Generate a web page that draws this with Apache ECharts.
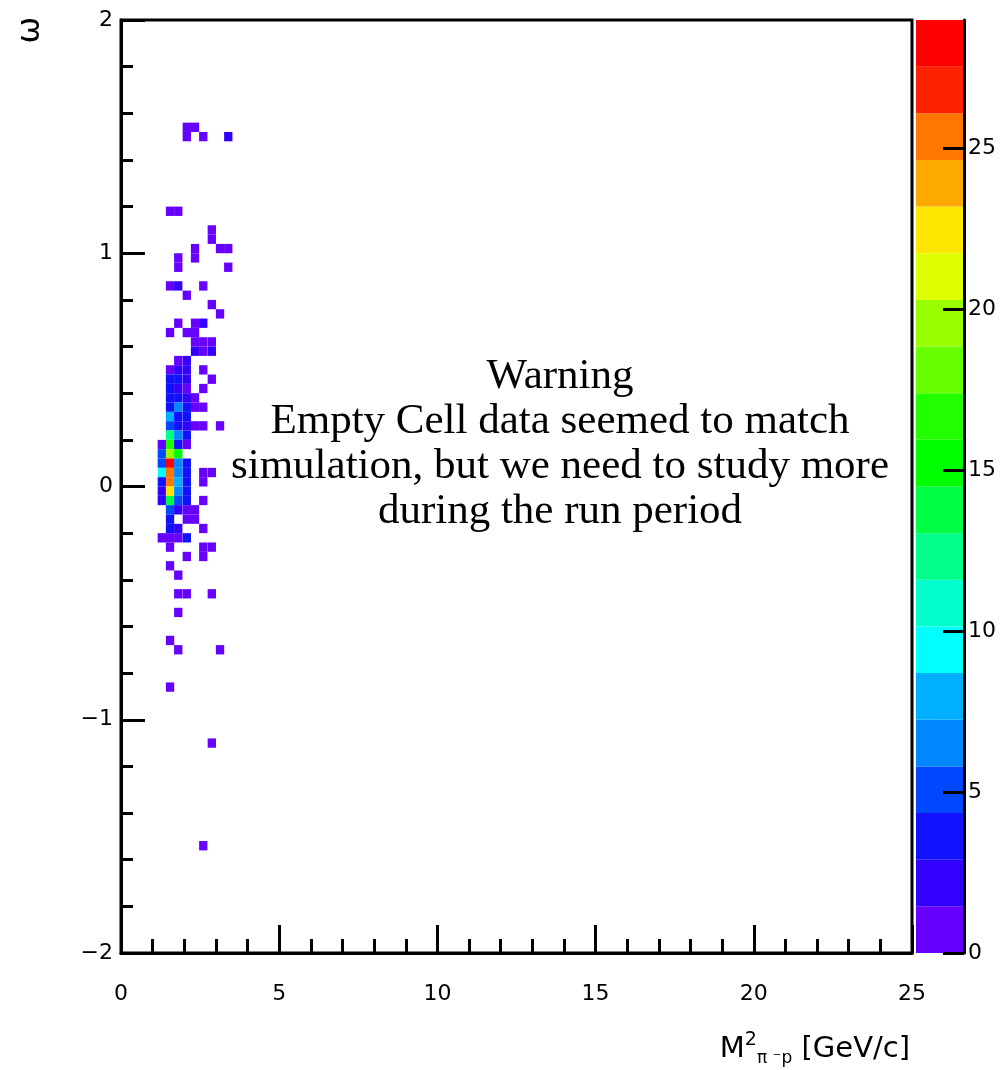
<!DOCTYPE html>
<html>
<head>
<meta charset="utf-8">
<script src="https://cdn.jsdelivr.net/npm/echarts@6/dist/echarts.min.js"></script>
<style>
html,body{margin:0;padding:0;background:#fff;}
#main{width:1008px;height:1070px;}
</style>
</head>
<body>
<div id="main"></div>
<script>
// ---- data ----
const xBinWidth = 0.263;   // bin width along M^2
const yBinHeight = 0.04;   // bin height along omega
const zMax = 29;           // top of the colour scale
const nLevels = 20;        // number of colour contours
const xTickValues = [0, 5, 10, 15, 20, 25];
const yTickValues = [-2, -1, 0, 1, 2];
const colorbarTicks = [0, 5, 10, 15, 20, 25];

// bin centres in omega, and the filled bins of each row as [M^2 centre, count]
const rowY = [1.54, 1.50, 1.18, 1.10, 1.06, 1.02, 0.98, 0.94, 0.86, 0.82, 0.78, 0.74, 0.70, 0.66, 0.62, 0.58, 0.54, 0.50,
  0.46, 0.42, 0.38, 0.34, 0.30, 0.26, 0.22, 0.18, 0.14, 0.10, 0.06, 0.02, -0.02, -0.06, -0.10, -0.14, -0.18, -0.22,
  -0.26, -0.30, -0.34, -0.38, -0.46, -0.54, -0.66, -0.70, -0.86, -1.10, -1.54];
const rowCells = [
  [[2.08,1],[2.34,1]],
  [[2.08,1],[2.60,1],[3.39,2]],
  [[1.55,1],[1.81,1]],
  [[2.87,1]],
  [[2.87,1]],
  [[2.34,1],[3.13,1],[3.39,1]],
  [[1.81,1],[2.34,1]],
  [[1.81,1],[3.39,1]],
  [[1.55,1],[1.81,2],[2.60,1]],
  [[2.08,1]],
  [[2.87,1]],
  [[3.13,1]],
  [[1.81,1],[2.34,1],[2.60,2]],
  [[1.55,1],[2.08,1],[2.34,1]],
  [[2.34,1],[2.60,1],[2.87,1]],
  [[2.34,2],[2.60,1],[2.87,2]],
  [[1.81,1],[2.08,2]],
  [[1.55,1],[1.81,2],[2.08,2],[2.60,1]],
  [[1.55,3],[1.81,3],[2.08,2],[2.87,1]],
  [[1.55,3],[1.81,2],[2.08,1],[2.60,1]],
  [[1.55,3],[1.81,3],[2.08,2],[2.34,1]],
  [[1.55,3],[1.81,6],[2.08,3],[2.34,1],[2.60,1]],
  [[1.55,8],[1.81,3],[2.08,3]],
  [[1.55,5],[1.81,4],[2.08,2],[2.34,1],[2.60,1],[3.13,1]],
  [[1.55,13],[1.81,6],[2.08,3]],
  [[1.29,1],[1.55,16],[1.81,3],[2.08,1]],
  [[1.29,5],[1.55,19],[1.81,15]],
  [[1.29,5],[1.55,29],[1.81,6],[2.08,3]],
  [[1.29,10],[1.55,26],[1.81,6],[2.08,3],[2.60,1],[2.87,1]],
  [[1.29,4],[1.55,26],[1.81,8],[2.08,3],[2.60,1]],
  [[1.29,2],[1.55,22],[1.81,6],[2.08,3]],
  [[1.29,2],[1.55,14],[1.81,5],[2.08,3],[2.60,1]],
  [[1.55,5],[1.81,2],[2.08,1],[2.34,1]],
  [[1.55,3],[2.08,1],[2.34,1]],
  [[1.55,3],[1.81,2],[2.60,1]],
  [[1.29,1],[1.55,1],[1.81,1],[2.08,3]],
  [[1.55,1],[2.60,1],[2.87,1]],
  [[2.08,1],[2.60,1]],
  [[1.55,1]],
  [[1.81,1]],
  [[1.81,1],[2.08,1],[2.87,1]],
  [[1.81,1]],
  [[1.55,1]],
  [[1.81,1],[3.13,1]],
  [[1.55,1]],
  [[2.87,1]],
  [[2.60,1]]
];

// ROOT rainbow palette, 20 contours (bottom -> top)
const palette = ['#6600ff','#3300ff','#1111ff','#0048ff','#0088ff','#00b0ff','#00ffff','#00ffcc','#00ff88','#00ff44',
  '#00ff00','#22ff00','#66ff00','#99ff00','#ddff00','#ffe600','#ffaa00','#ff7700','#ff2200','#ff0000'];

const warningText = 'Warning\nEmpty Cell data seemed to match\nsimulation, but we need to study more\nduring the run period';

// ---- build the series data ----
const cells = [];
rowY.forEach(function (y, r) {
  rowCells[r].forEach(function (c) { cells.push([c[0], y, c[1]]); });
});
const step = zMax / nLevels;
const pieces = palette.map(function (col, k) {
  return k === nLevels - 1 ? { gte: k * step, color: col } : { gte: k * step, lt: (k + 1) * step, color: col };
});
const bandData = palette.map(function (col, k) { return [k * step, (k + 1) * step, k]; });

const labelFont = { color: '#000', fontFamily: 'DejaVu Sans', fontSize: 22 };
const minus = function (v) { return v < 0 ? '\u2212' + Math.abs(v) : String(v); };

const chart = echarts.init(document.getElementById('main'), null, { renderer: 'canvas' });
chart.setOption({
  backgroundColor: '#ffffff',
  animation: false,
  grid: [
    { left: 121, top: 20, width: 791, height: 933, show: true, borderColor: '#000', borderWidth: 3, backgroundColor: 'rgba(0,0,0,0)', containLabel: false },
    { left: 916, top: 20, width: 48, height: 933, show: false, containLabel: false }
  ],
  visualMap: {
    type: 'piecewise', show: false, seriesIndex: 0, dimension: 2, pieces: pieces
  },
  xAxis: [
    {
      gridIndex: 0, type: 'value', min: 0, max: 25, interval: 5,
      axisLine: { show: true, onZero: false, lineStyle: { color: '#000', width: 3 } },
      axisTick: { show: true, inside: true, length: 28, lineStyle: { color: '#000', width: 3 } },
      minorTick: { show: true, splitNumber: 5, length: 14, lineStyle: { color: '#000', width: 3 } },
      splitLine: { show: false }, minorSplitLine: { show: false },
      axisLabel: Object.assign({ margin: 30, formatter: minus }, labelFont),
      name: '{m|M}{sup|2}{sub|\u03c0 \u207bp} {m|[GeV/c]}',
      nameLocation: 'end', nameGap: -2, nameMoveOverlap: false,
      nameTextStyle: {
        align: 'right', verticalAlign: 'top', padding: [78, 0, 0, 0],
        color: '#000', fontFamily: 'DejaVu Sans', fontSize: 29, lineHeight: 36,
        rich: {
          m: { fontFamily: 'DejaVu Sans', fontSize: 29, color: '#000', lineHeight: 36 },
          sup: { fontFamily: 'DejaVu Sans', fontSize: 19, color: '#000', verticalAlign: 'top', lineHeight: 36, padding: [0, 0, 12, 0] },
          sub: { fontFamily: 'DejaVu Sans', fontSize: 17, color: '#000', verticalAlign: 'bottom', lineHeight: 36 }
        }
      }
    },
    { gridIndex: 1, type: 'value', min: 0, max: 1, show: false }
  ],
  yAxis: [
    {
      gridIndex: 0, type: 'value', min: -2, max: 2, interval: 1,
      axisLine: { show: true, onZero: false, lineStyle: { color: '#000', width: 3 } },
      axisTick: { show: true, inside: true, length: 24, lineStyle: { color: '#000', width: 3 } },
      minorTick: { show: true, splitNumber: 5, length: 12, lineStyle: { color: '#000', width: 3 } },
      splitLine: { show: false }, minorSplitLine: { show: false },
      axisLabel: Object.assign({ margin: 8, formatter: minus }, labelFont)
    },
    {
      gridIndex: 1, type: 'value', min: 0, max: zMax, position: 'right', z: 10,
      axisLine: { show: true, onZero: false, lineStyle: { color: '#000', width: 3 } },
      axisTick: { show: true, inside: true, length: 21, customValues: colorbarTicks, lineStyle: { color: '#000', width: 3 } },
      splitLine: { show: false },
      axisLabel: Object.assign({ margin: 4, customValues: colorbarTicks }, labelFont)
    }
  ],
  series: [
    {
      type: 'custom', xAxisIndex: 0, yAxisIndex: 0, clip: true,
      encode: { x: 0, y: 1 },
      data: cells,
      renderItem: function (params, api) {
        const x = api.value(0), y = api.value(1);
        const p1 = api.coord([x - xBinWidth / 2, y + yBinHeight / 2]);
        const p2 = api.coord([x + xBinWidth / 2, y - yBinHeight / 2]);
        return {
          type: 'rect',
          shape: { x: p1[0], y: p1[1], width: p2[0] - p1[0], height: p2[1] - p1[1] },
          style: { fill: api.visual('color') }
        };
      }
    },
    {
      type: 'custom', xAxisIndex: 1, yAxisIndex: 1, clip: false,
      encode: { y: [0, 1] },
      data: bandData,
      renderItem: function (params, api) {
        const lo = api.value(0), hi = api.value(1), k = api.value(2);
        const p1 = api.coord([0, hi]);
        const p2 = api.coord([1, lo]);
        return {
          type: 'rect',
          shape: { x: p1[0], y: p1[1], width: p2[0] - p1[0], height: p2[1] - p1[1] },
          style: { fill: palette[k] }
        };
      },
      z: 1
    }
  ],
  graphic: [
    {
      type: 'text', x: 31, y: 30, rotation: Math.PI / 2,
      style: { text: '\u03c9', fontFamily: 'DejaVu Sans', fontSize: 32, fill: '#000', align: 'center', verticalAlign: 'middle' }
    },
    {
      type: 'text', x: 560, y: 354,
      style: { text: warningText, fontFamily: 'Liberation Serif', fontSize: 43, lineHeight: 45, fill: '#000', align: 'center', verticalAlign: 'top' }
    }
  ]
});
</script>
</body>
</html>
